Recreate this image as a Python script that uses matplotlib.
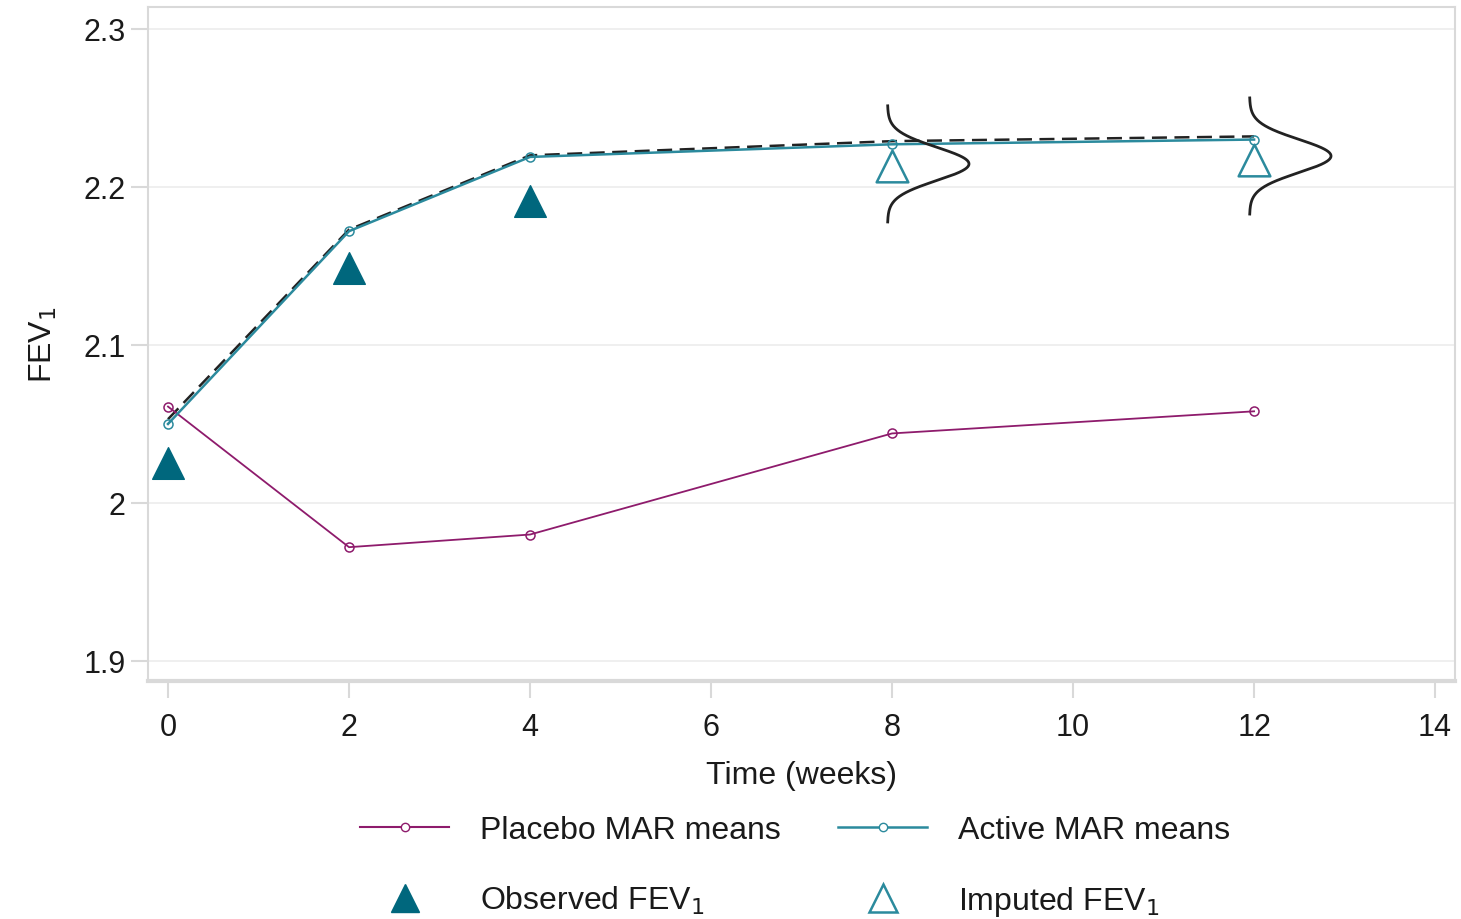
import numpy as np
import matplotlib
matplotlib.use("Agg")
import matplotlib.pyplot as plt
from matplotlib.lines import Line2D

plt.rcParams['font.family'] = ['Liberation Sans', 'DejaVu Sans']

# ---- data ----
weeks = [0, 2, 4, 8, 12]
placebo_mar = [2.061, 1.972, 1.980, 2.044, 2.058]
active_mar = [2.050, 2.172, 2.219, 2.227, 2.230]
reference_mean = [2.053, 2.173, 2.220, 2.229, 2.232]   # dashed black
obs_weeks = [0, 2, 4]
observed_fev = [2.025, 2.149, 2.191]
imp_weeks = [8, 12]
imputed_fev = [2.213, 2.217]
# imputation distributions drawn at weeks 8 and 12
dist_weeks = [7.95, 11.95]
dist_mean = [2.2146, 2.2196]
dist_sd = [0.0105, 0.0105]
dist_peak = [0.9, 0.9]  # horizontal height of density peak (weeks)

xticks = [0, 2, 4, 6, 8, 10, 12, 14]
yticks = [1.9, 2.0, 2.1, 2.2, 2.3]
ytick_labels = ['1.9', '2', '2.1', '2.2', '2.3']

c_plac = '#8E1B6C'
c_act = '#2B8A9D'
c_obs = '#00677D'
c_grid = '#ececec'
c_frame = '#d9d9d9'

fig = plt.figure(figsize=(14.61, 9.2), dpi=100)
ax = fig.add_axes([0.1013, 0.2587, 0.8946, 0.7326])

ax.set_xlim(-0.221, 14.22)
ax.set_ylim(1.8873, 2.3139)

for y in yticks:
    ax.axhline(y, color=c_grid, lw=1.2, zorder=0)

ax.plot(weeks, placebo_mar, color=c_plac, lw=1.3, marker='o', ms=6.5,
        mfc='none', mec=c_plac, mew=1.1, zorder=3)
ax.plot(weeks, active_mar, color=c_act, lw=1.8, marker='o', ms=6.5,
        mfc='none', mec=c_act, mew=1.1, zorder=3)
ax.plot(weeks, reference_mean, color='#222222', lw=1.8, ls=(0, (6, 3)), zorder=2)

ax.scatter(obs_weeks, observed_fev, marker='^', s=520, color=c_obs,
           edgecolors=c_obs, zorder=4)
ax.scatter(imp_weeks, imputed_fev, marker='^', s=520, facecolors='white',
           edgecolors=c_act, linewidths=1.8, zorder=4)

for xw, mu, sd, pk in zip(dist_weeks, dist_mean, dist_sd, dist_peak):
    yy = np.linspace(mu - 3.5 * sd, mu + 3.5 * sd, 300)
    xx = xw + pk * np.exp(-0.5 * ((yy - mu) / sd) ** 2)
    ax.plot(xx, yy, color='#222222', lw=2.0, zorder=5)

ax.set_xticks(xticks)
ax.set_yticks(yticks)
ax.set_yticklabels(ytick_labels)
ax.tick_params(axis='both', colors=c_frame, labelcolor='#1a1a1a',
               labelsize=22, length=12, width=1.5)
ax.tick_params(axis='x', pad=10)
ax.tick_params(axis='y', pad=4)
for s in ax.spines.values():
    s.set_color(c_frame)
    s.set_linewidth(1.5)
ax.spines['bottom'].set_linewidth(3)

ax.set_xlabel('Time (weeks)', fontsize=23, color='#1a1a1a', labelpad=13)
ax.set_ylabel('FEV$_1$', fontsize=23, color='#1a1a1a', labelpad=18)

handles = [
    Line2D([], [], color=c_plac, lw=1.5, marker='o', ms=6, mfc='white', mec=c_plac),
    Line2D([], [], color=c_act, lw=1.8, marker='o', ms=6, mfc='white', mec=c_act),
    Line2D([], [], ls='none', marker='^', ms=20, color=c_obs),
    Line2D([], [], ls='none', marker='^', ms=20, mfc='white', mec=c_act, mew=1.8),
]
labels = ['Placebo MAR means', 'Active MAR means',
          'Observed FEV$_1$', 'Imputed FEV$_1$']
order = [0, 2, 1, 3]
leg = fig.legend([handles[i] for i in order], [labels[i] for i in order],
                 ncol=2, loc='center', bbox_to_anchor=(0.544, 0.057),
                 frameon=False, fontsize=23, handlelength=2.8,
                 columnspacing=1.8, labelspacing=1.22, handletextpad=0.95)
for t in leg.get_texts():
    t.set_color('#1a1a1a')

fig.savefig('out.png', dpi=100)
